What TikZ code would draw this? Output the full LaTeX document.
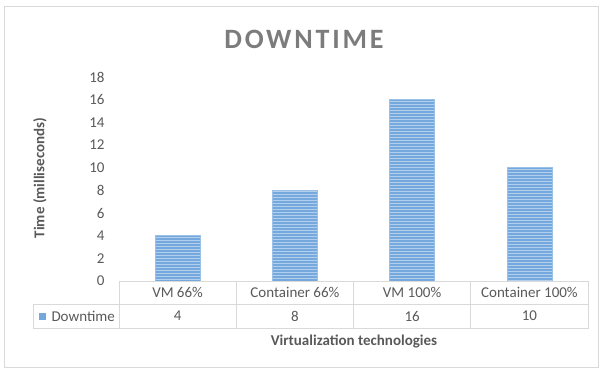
\documentclass[tikz,border=0pt]{standalone}
\usepackage{fontspec}
\setmainfont{Carlito}
\newfontfamily\titlefont[LetterSpace=10]{Carlito}
\definecolor{BarBlue}{RGB}{117,168,221}
\definecolor{StripeBlue}{RGB}{178,208,238}
\definecolor{EdgeBlue}{RGB}{155,194,230}
\definecolor{GridGray}{RGB}{217,217,217}
\definecolor{TextGray}{RGB}{89,89,89}
\definecolor{TitleGray}{RGB}{124,124,124}
\usetikzlibrary{positioning}

\begin{document}
\begin{tikzpicture}[x=1pt, y=-1pt, line width=1pt,
    every node/.style={font=\fontsize{15}{18}\selectfont, text=TextGray, inner sep=0pt},
    gridline/.style={draw=GridGray, line width=1pt}]
    \useasboundingbox (0,0) rectangle (601,370);
    \draw[gridline] (4.5,6.5) rectangle (598.5,367.5);
    \node[font=\titlefont\fontsize{28}{32}\selectfont\bfseries, text=TitleGray] (title) at (304,39) {DOWNTIME};

    % value axis
    \foreach \v in {0,2,...,18}
        \node[anchor=east] (tick\v) at (105,{281-\v*11.33}) {\v};
    \node[font=\fontsize{15}{18}\selectfont\bfseries, rotate=90] (ytitle) at (40,178) {Time (milliseconds)};

    % bars
    \foreach \i/\v in {1/4,2/8,3/16,4/10} {
        \pgfmathsetmacro\cx{119+(\i-0.5)*117.25}
        \pgfmathsetmacro\bartop{281-\v*11.33}
        \begin{scope}
            \clip (\cx-22.5,\bartop) rectangle (\cx+22.5,281);
            \fill[BarBlue] (\cx-22.5,\bartop) rectangle (\cx+22.5,281);
            \foreach \s in {0,...,62}
                \draw[StripeBlue, line width=1pt] (\cx-22.5,\bartop+1.5+\s*3) -- ++(45,0);
        \end{scope}
        \draw[EdgeBlue, line width=0.6pt] (\cx-22.5,\bartop) rectangle (\cx+22.5,281);
    }

    % data table
    \draw[gridline] (119,281) -- (588,281) -- (588,328) -- (33,328) -- (33,304) -- (588,304);
    \foreach \x in {119,236.25,353.5,470.75}
        \draw[gridline] (\x,281) -- (\x,328);
    \node (cat1) at (177.6,292.5) {VM 66\%};
    \node (cat2) at (294.9,292.5) {Container 66\%};
    \node (cat3) at (412.1,292.5) {VM 100\%};
    \node (cat4) at (529.4,292.5) {Container 100\%};
    \node (val1) at (177.6,316) {4};
    \node (val2) at (294.9,316) {8};
    \node (val3) at (412.1,316) {16};
    \node (val4) at (529.4,316) {10};
    \fill[BarBlue] (39,312.5) rectangle (46,319.5);
    \node[anchor=west] (legend) at (51,316) {Downtime};
    \node[font=\fontsize{15}{18}\selectfont\bfseries] (xtitle) at (354,341) {Virtualization technologies};
\end{tikzpicture}
\end{document}
